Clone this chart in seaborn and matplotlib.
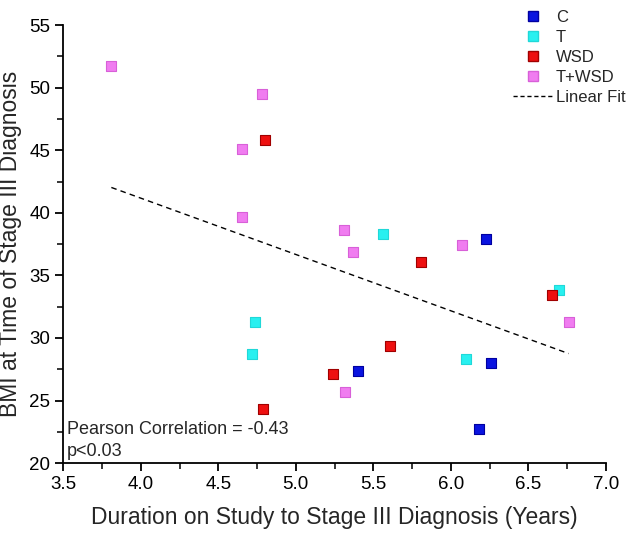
import numpy as np
import pandas as pd
import seaborn as sns
import matplotlib.pyplot as plt
from matplotlib.lines import Line2D
from matplotlib.ticker import MultipleLocator

# Values
groups = ["C", "T", "WSD", "T+WSD"]
c_years = [6.23, 6.26, 5.40, 6.18]
c_bmi = [37.9, 28.0, 27.4, 22.7]
t_years = [5.56, 6.70, 4.74, 4.72, 6.10]
t_bmi = [38.3, 33.8, 31.3, 28.7, 28.3]
wsd_years = [4.80, 5.81, 6.65, 5.61, 5.24, 4.79]
wsd_bmi = [45.8, 36.1, 33.4, 29.4, 27.1, 24.3]
twsd_years = [3.81, 4.78, 4.65, 4.65, 5.31, 5.37, 6.07, 6.76, 5.32]
twsd_bmi = [51.7, 49.5, 45.1, 39.7, 38.6, 36.9, 37.4, 31.3, 25.7]

colors = {"C": "#0a14e0", "T": "#28f0f0", "WSD": "#ee1010", "T+WSD": "#f07cf0"}
edges = {"C": "#0000a0", "T": "#20d8d8", "WSD": "#a00000", "T+WSD": "#d860d8"}

frames = []
for g, xs, ys in zip(groups, [c_years, t_years, wsd_years, twsd_years],
                     [c_bmi, t_bmi, wsd_bmi, twsd_bmi]):
    frames.append(pd.DataFrame({"years": xs, "bmi": ys, "group": g}))
df = pd.concat(frames, ignore_index=True)

sns.set_style("ticks")
plt.rcParams["font.family"] = ["Liberation Sans", "DejaVu Sans"]

fig = plt.figure(figsize=(6.33, 5.33), dpi=100)
ax = fig.add_axes([0.1, 0.131, 0.857, 0.822])

for g in groups:
    sub = df[df["group"] == g]
    sns.scatterplot(data=sub, x="years", y="bmi", marker="s", s=50,
                    color=colors[g], edgecolor=edges[g], linewidth=0.8,
                    ax=ax, legend=False, zorder=3)

sns.regplot(data=df, x="years", y="bmi", scatter=False, ci=None, ax=ax,
            line_kws={"color": "black", "linestyle": (0, (4, 3)), "linewidth": 1.0})

ax.set_xlim(3.5, 7.0)
ax.set_ylim(20, 55)
ax.xaxis.set_major_locator(MultipleLocator(0.5))
ax.xaxis.set_minor_locator(MultipleLocator(0.25))
ax.yaxis.set_major_locator(MultipleLocator(5))
ax.yaxis.set_minor_locator(MultipleLocator(2.5))
ax.xaxis.set_major_formatter(plt.FormatStrFormatter("%.1f"))
sns.despine(ax=ax)
for sp in ["left", "bottom"]:
    ax.spines[sp].set_linewidth(1.3)
    ax.spines[sp].set_color("black")
ax.tick_params(which="major", direction="out", length=6, width=1.3,
               labelsize=13.5, colors="black")
ax.tick_params(which="minor", direction="out", length=4, width=1.3)

ax.set_xlabel("Duration on Study to Stage III Diagnosis (Years)", fontsize=16.5, labelpad=9)
ax.set_ylabel("BMI at Time of Stage III Diagnosis", fontsize=16.5, labelpad=5)

ax.text(0.006, 0.067, "Pearson Correlation = -0.43", transform=ax.transAxes,
        fontsize=13, va="baseline", ha="left")
ax.text(0.006, 0.017, "p<0.03", transform=ax.transAxes,
        fontsize=13, va="baseline", ha="left")

handles = [Line2D([], [], marker="s", linestyle="none", markersize=7.5,
                  markerfacecolor=colors[g], markeredgecolor=edges[g])
           for g in groups]
handles.append(Line2D([], [], color="black", linestyle=(0, (3, 2)), linewidth=1.0))
fig.legend(handles, groups + ["Linear Fit"], loc="upper left",
           bbox_to_anchor=(0.795, 1.0), frameon=False, fontsize=12,
           handlelength=2.4, handletextpad=0.15, labelspacing=0.3,
           borderaxespad=0.2)

fig.savefig("out.png", dpi=100)
